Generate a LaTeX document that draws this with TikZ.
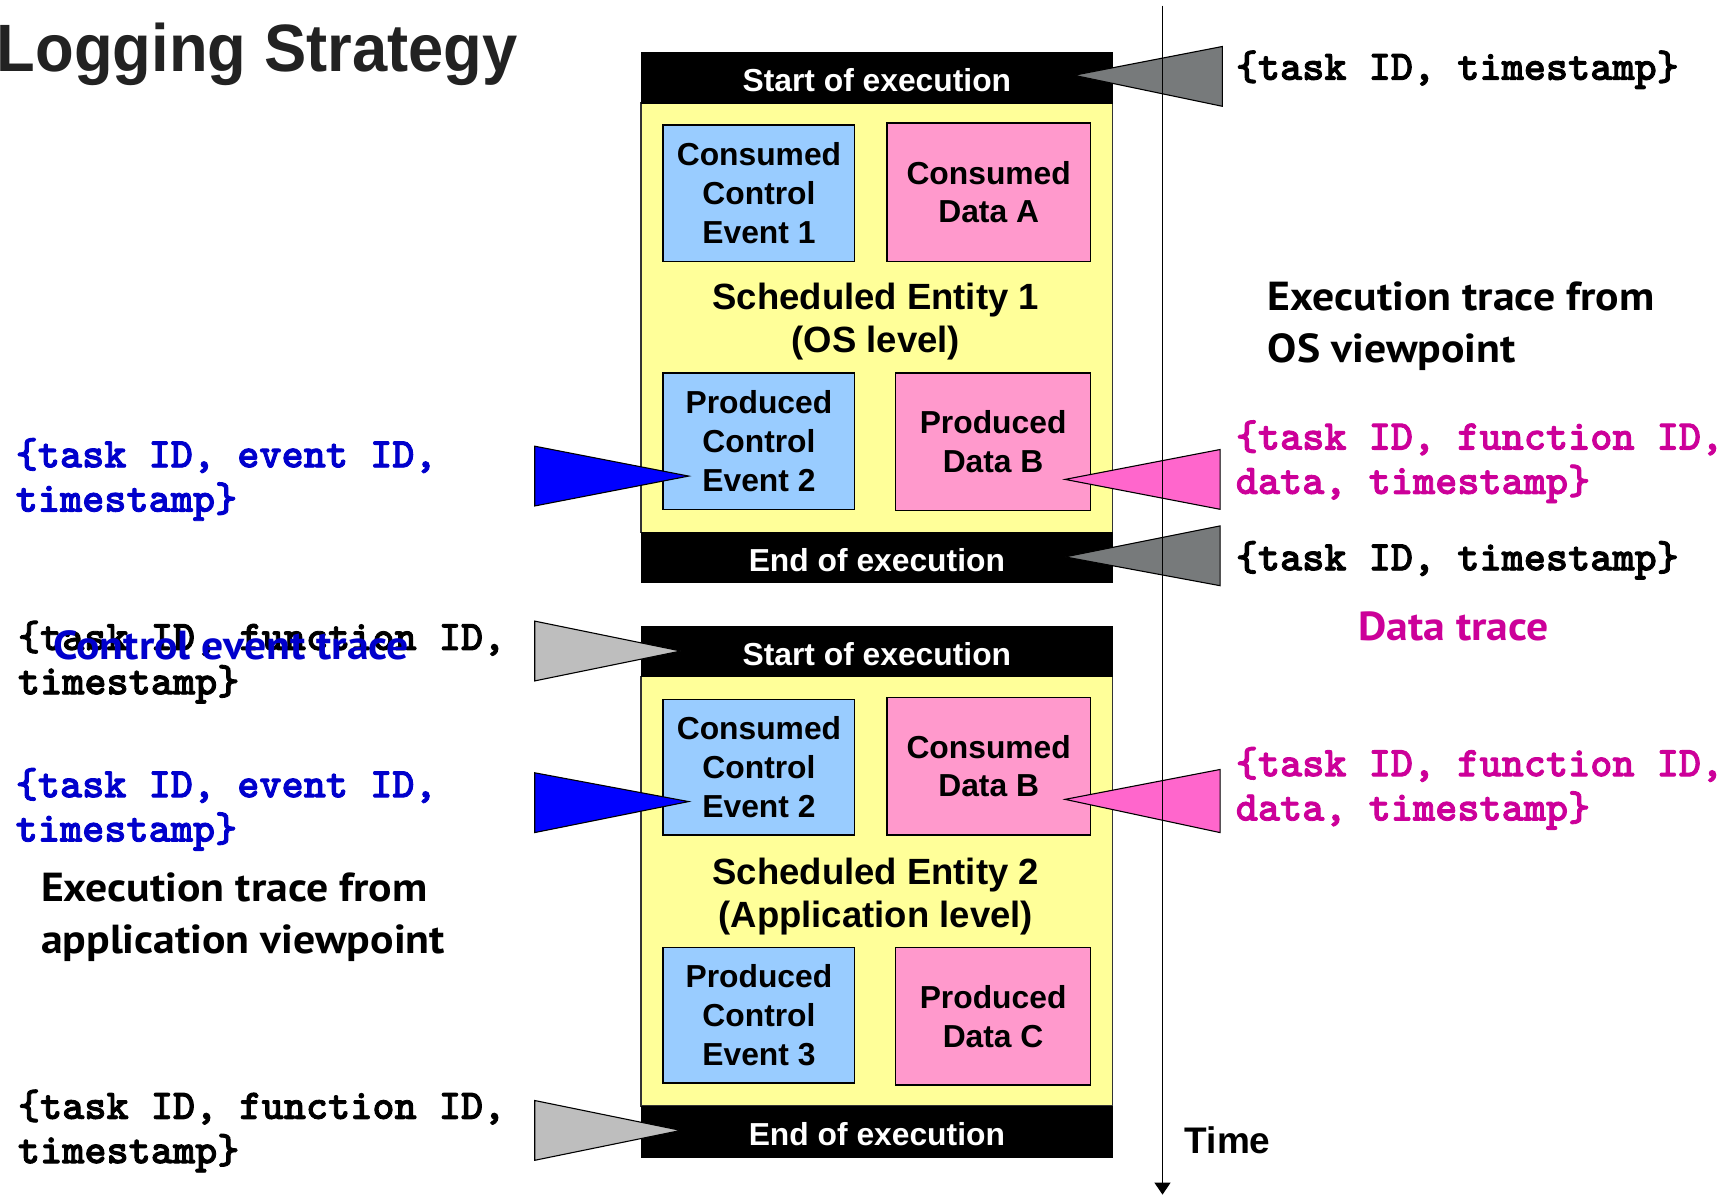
\documentclass[tikz,border=0pt]{standalone}
\usepackage{fontspec}
\setmainfont{Liberation Sans}
\newfontfamily\myrfnt{PT Sans}[FakeStretch=1.08]
\newfontfamily\titlefnt{Liberation Sans}[FakeStretch=0.945]
\newfontfamily\monofnt{lmmonolt10-bold.otf}[FakeBold=2]
\usetikzlibrary{arrows.meta}
\definecolor{boxblue}{HTML}{99CCFF}
\definecolor{boxpink}{HTML}{FF99CC}
\definecolor{boxyellow}{HTML}{FFFF99}
\definecolor{triblue}{HTML}{0000FF}
\definecolor{tripink}{HTML}{FF66CC}
\definecolor{tridark}{HTML}{777A7B}
\definecolor{trilight}{HTML}{BEBEBE}
\definecolor{txtblue}{HTML}{0000CC}
\definecolor{txtmag}{HTML}{CC0099}
\definecolor{titlegray}{HTML}{222222}
\tikzset{
  wh/.style 2 args={minimum width=#1*1.1071pt, minimum height=#2*1.1071pt},
  boxlbl/.style={font=\bfseries\fontsize{31.8}{38.7}\selectfont, align=center, inner sep=0pt},
  cbox/.style={boxlbl, draw=black, line width=1.5pt, fill=boxblue},
  dbox/.style={boxlbl, draw=black, line width=1.5pt, fill=boxpink},
  bar/.style={boxlbl, fill=black, draw=black, text=white, text height=28pt, text depth=0pt},
  ent/.style={fill=boxyellow, draw=black!80, line width=1.2pt, inner sep=0pt},
  entlbl/.style={font=\bfseries\fontsize{36.5}{43}\selectfont, align=center, inner sep=0pt},
  tri/.style={draw=black, line width=1.1pt, line join=miter},
  mono/.style={font=\monofnt\fontsize{42.2}{44.3}\selectfont, align=left, inner sep=0pt, anchor=west},
  note/.style={font=\myrfnt\bfseries\fontsize{40.5}{52}\selectfont, align=left, inner sep=0pt, anchor=west},
}
\begin{document}
\begin{tikzpicture}[x=1.1071pt,y=-1.1071pt]
\useasboundingbox (0,0) rectangle (1568,1081);

% title
\node[anchor=base west, inner sep=0pt, text=titlegray, font=\titlefnt\bfseries\fontsize{67}{70}\selectfont] (title) at (-3,65) {Logging Strategy};

% ---------- entity 1 ----------
\node[ent, wh={426}{388}] (ent1) at (792,287) {};
\node[bar, wh={426}{46}] (s1) at (792,70) {Start of execution};
\node[bar, wh={426}{45}] (e1) at (792,503.5) {End of execution};
\node[cbox, wh={173}{123}] (cce1) at (685.5,174.5) {Consumed\\Control\\Event 1};
\node[dbox, wh={184}{125}] (cda) at (893,173.5) {Consumed\\Data A};
\node[entlbl] (ent1lbl) at (791,290.5) {Scheduled Entity 1\\(OS level)};
\node[cbox, wh={173}{123}] (pce2) at (685.5,398.5) {Produced\\Control\\Event 2};
\node[dbox, wh={176}{124}] (pdb) at (897,399) {Produced\\Data B};

% ---------- entity 2 ----------
\node[ent, wh={426}{388}] (ent2) at (792,805) {};
\node[bar, wh={426}{45}] (s2) at (792,588.5) {Start of execution};
\node[bar, wh={426}{46}] (e2) at (792,1022) {End of execution};
\node[cbox, wh={173}{122}] (cce2) at (685.5,693) {Consumed\\Control\\Event 2};
\node[dbox, wh={184}{124}] (cdb) at (893,692) {Consumed\\Data B};
\node[entlbl] (ent2lbl) at (791,810) {Scheduled Entity 2\\(Application level)};
\node[cbox, wh={173}{122}] (pce3) at (685.5,917) {Produced\\Control\\Event 3};
\node[dbox, wh={176}{124}] (pdc) at (897,918) {Produced\\Data C};

% ---------- pointer triangles ----------
\coordinate (tS1) at (970,68);
\coordinate (tPCE2) at (622,430);
\coordinate (tPDB) at (962,433);
\coordinate (tE1) at (962,503);
\coordinate (tS2) at (615,588);
\coordinate (tCCE2) at (622,724);
\coordinate (tCDB) at (962,722);
\coordinate (tE2) at (615,1021);

\filldraw[tri, fill=tridark] (1104,42) -- (tS1) -- (1104,96) -- cycle;
\filldraw[tri, fill=triblue] (483,403) -- (tPCE2) -- (483,457) -- cycle;
\filldraw[tri, fill=tripink] (1102,406) -- (tPDB) -- (1102,460) -- cycle;
\filldraw[tri, fill=tridark] (1102,475) -- (tE1) -- (1102,529) -- cycle;
\filldraw[tri, fill=trilight] (483,561) -- (tS2) -- (483,615) -- cycle;
\filldraw[tri, fill=triblue] (483,698) -- (tCCE2) -- (483,752) -- cycle;
\filldraw[tri, fill=tripink] (1102,695) -- (tCDB) -- (1102,752) -- cycle;
\filldraw[tri, fill=trilight] (483,994) -- (tE2) -- (483,1048) -- cycle;

% ---------- time axis ----------
\coordinate (tA) at (1050,5);
\coordinate (tB) at (1050,1079);
\draw[line width=1.3pt, -{Triangle[length=12pt,width=16pt]}] (tA) -- (tB);
\node[anchor=west, inner sep=0pt, font=\bfseries\fontsize{37}{40}\selectfont] (time) at (1070,1030) {Time};

% ---------- right texts ----------
\node[mono] (r1) at (1116,63) {\{task ID, timestamp\}};
\node[note] (osv) at (1145,295) {Execution trace from\\OS viewpoint};
\node[mono, text=txtmag] (r2) at (1116,417) {\{task ID, function ID,\\data, timestamp\}};
\node[mono] (r3) at (1116,506) {\{task ID, timestamp\}};
\node[note, anchor=center, text=txtmag] (dtr) at (1313,566) {Data trace};
\node[mono, text=txtmag] (r4) at (1116,712) {\{task ID, function ID,\\data, timestamp\}};

% ---------- left texts ----------
\node[mono, text=txtblue] (l1) at (14,433) {\{task ID, event ID,\\timestamp\}};
\node[mono] (l2) at (16,598) {\{task ID, function ID,\\timestamp\}};
\node[note, anchor=center, text=txtblue] (cet) at (209,583) {Control event trace};
\node[mono, text=txtblue] (l3) at (14,731) {\{task ID, event ID,\\timestamp\}};
\node[note] (appv) at (37,828) {Execution trace from\\application viewpoint};
\node[mono] (l4) at (16,1021.5) {\{task ID, function ID,\\timestamp\}};
\end{tikzpicture}
\end{document}
